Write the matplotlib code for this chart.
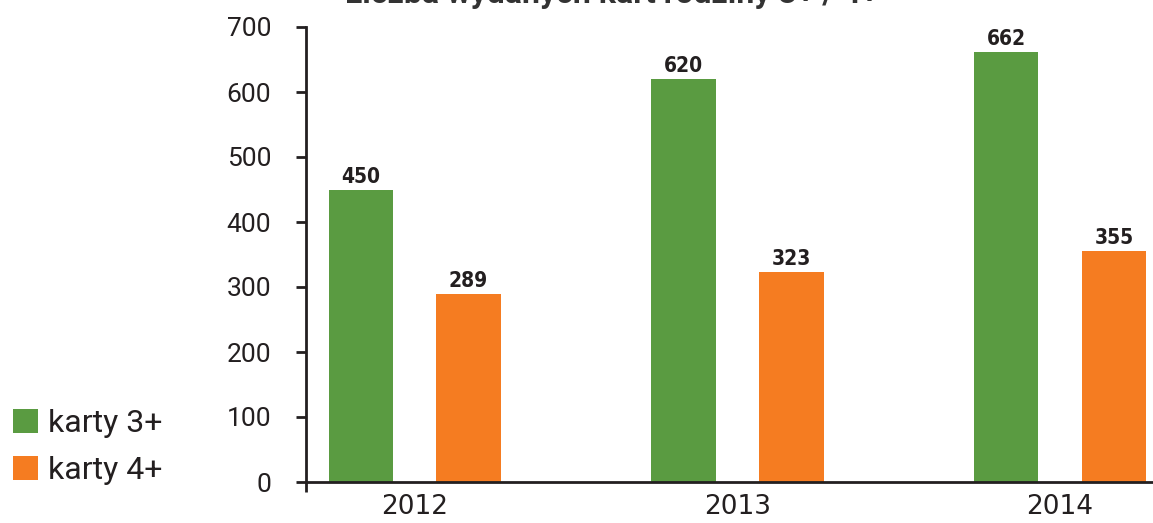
import matplotlib.pyplot as plt
import numpy as np

# dane
lata = ['2012', '2013', '2014']
karty3 = [450, 620, 662]
karty4 = [289, 323, 355]
yticks = [0, 100, 200, 300, 400, 500, 600, 700]

zielony = '#5A9B41'
pomarancz = '#F57C21'
tekst = '#231F20'

fig = plt.figure(figsize=(11.53, 5.23), dpi=100)
ax = fig.add_axes([306/1153, 41/523, 1 - 306/1153, (482 - 27)/523])

x = np.arange(len(lata))
szer = 0.2
b1 = ax.bar(x - 0.167, karty3, szer, color=zielony, label='karty 3+')
b2 = ax.bar(x + 0.167, karty4, szer, color=pomarancz, label='karty 4+')

for b in (b1, b2):
    ax.bar_label(b, padding=2, fontsize=15, fontweight='bold', color=tekst,
                 family='DejaVu Sans', fontstretch='condensed')

ax.set_xlim(-0.337, 2.288)
ax.set_ylim(0, 700)
ax.set_yticks(yticks)
ax.set_yticklabels([str(v) for v in yticks], fontsize=19, family='Roboto', color=tekst)
ax.set_xticks(x)
ax.set_xticklabels(lata, fontsize=19, family=['Liberation Sans Narrow', 'DejaVu Sans'], color=tekst)
ax.set_xticks([-0.337], minor=True)
ax.tick_params(axis='x', which='major', length=0, pad=9)
ax.tick_params(axis='x', which='minor', length=7, width=2, color=tekst, direction='out')
ax.tick_params(axis='y', length=7, width=2, color=tekst, pad=18)

for s in ['top', 'right']:
    ax.spines[s].set_visible(False)
for s in ['left', 'bottom']:
    ax.spines[s].set_linewidth(2)
    ax.spines[s].set_color(tekst)

# tytuł - w oryginale ucięty u góry
fig.text(612/1153, 1 - 3/523, 'Liczba wydanych kart rodziny 3+ / 4+', ha='center', va='baseline',
         fontsize=23, fontweight='bold', family='Roboto', color='#333333')

fig.legend(loc='upper left', bbox_to_anchor=(-16/1153, 1 - 380/523), frameon=False,
           handlelength=0.8, handleheight=0.8, handletextpad=0.3, labelspacing=0.55,
           prop={'family': 'Roboto', 'size': 23}, labelcolor=tekst)

fig.savefig('out.png', dpi=100)
